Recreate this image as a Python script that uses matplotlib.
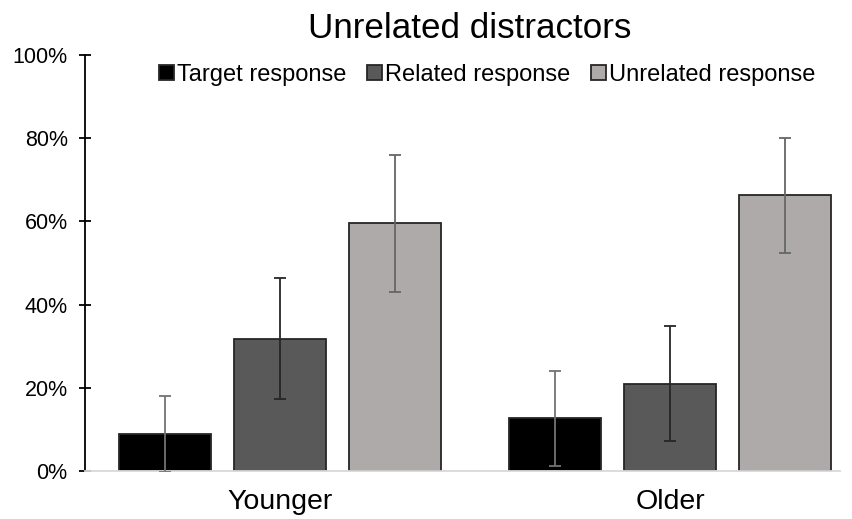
import matplotlib
matplotlib.use("Agg")
import matplotlib.pyplot as plt
import numpy as np
from matplotlib.ticker import FuncFormatter

plt.rcParams['font.family'] = ['Liberation Sans', 'DejaVu Sans']

groups = ["Younger", "Older"]
series = ["Target response", "Related response", "Unrelated response"]
values = {
    "Target response": [8.9, 12.7],
    "Related response": [31.8, 21.0],
    "Unrelated response": [59.5, 66.3],
}
errors = {
    "Target response": [9.2, 11.4],
    "Related response": [14.5, 13.8],
    "Unrelated response": [16.5, 13.8],
}
fill_colors = ["#000000", "#595959", "#AEAAAA"]
err_colors = ["#737373", "#262626", "#666666"]
yticks = [0, 20, 40, 60, 80, 100]

W, H = 853, 519
fig = plt.figure(figsize=(W / 100, H / 100), dpi=100)
ax = fig.add_axes([85 / W, (H - 471) / H, (840 - 85) / W, (471 - 55) / H])

x = np.arange(len(groups))
bw = 0.238
offs = [-0.295, 0.0, 0.295]
for i, s in enumerate(series):
    ax.bar(x + offs[i], values[s], width=bw, color=fill_colors[i],
           edgecolor="#262626", linewidth=1.3, label=s, zorder=2)
    ax.errorbar(x + offs[i], values[s], yerr=errors[s], fmt="none",
                ecolor=err_colors[i], elinewidth=1.3, capsize=4.5,
                capthick=1.3, zorder=3, clip_on=True)

ax.set_xlim(-0.5, (840 - 280) / 390)
ax.set_ylim(0, 100)
ax.set_yticks(yticks)
ax.yaxis.set_major_formatter(FuncFormatter(lambda v, p: f"{int(v)}%"))
ax.tick_params(axis="y", direction="inout", length=9, width=1.3,
               labelsize=15.5, pad=8, colors="black")
ax.set_xticks(x)
ax.set_xticklabels(groups)
ax.tick_params(axis="x", length=0, labelsize=20.5, pad=13)

for sp in ["top", "right"]:
    ax.spines[sp].set_visible(False)
ax.spines["left"].set_linewidth(1.3)
ax.spines["left"].set_color("black")
ax.spines["bottom"].set_color("#d9d9d9")
ax.spines["bottom"].set_linewidth(1.3)

fig.text(470 / W, 1 - 29 / H, "Unrelated distractors", ha="center",
         va="center", fontsize=25.2)

leg = ax.legend(loc="center", bbox_to_anchor=(487 / W, 1 - 75 / H),
                bbox_transform=fig.transFigure, ncol=3, frameon=False,
                fontsize=17, handlelength=0.62, handleheight=0.62,
                handletextpad=0.12, columnspacing=0.9, borderpad=0)

fig.savefig("out.png", dpi=100)
